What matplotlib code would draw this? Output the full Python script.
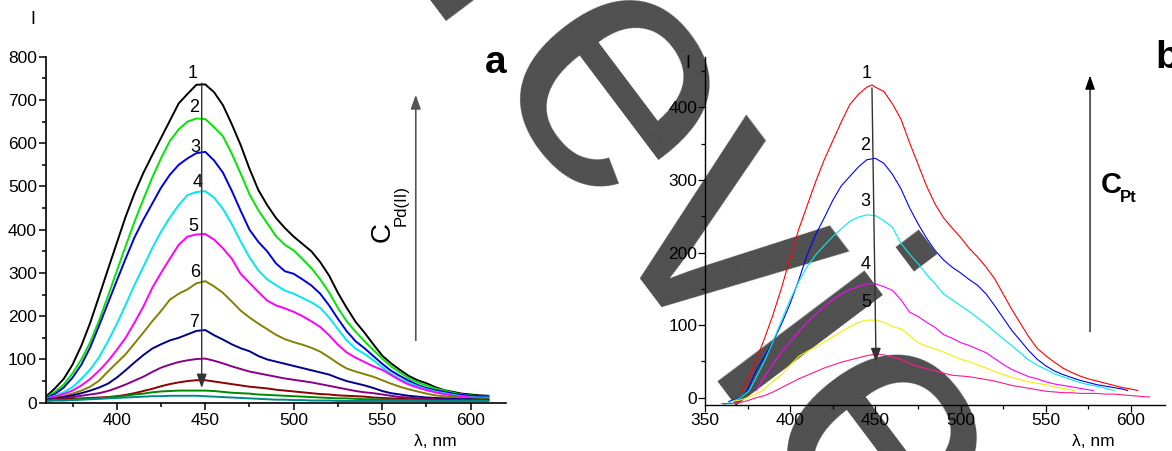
import numpy as np
import matplotlib
matplotlib.use("Agg")
import matplotlib.pyplot as plt
from matplotlib.ticker import MultipleLocator

plt.rcParams["font.family"] = ["Liberation Sans", "DejaVu Sans"]
plt.rcParams["font.size"] = 12.5

W, H = 1172, 451

# ---- panel a: emission spectra vs C_Pd(II) ----
lam_a = list(range(360, 615, 5))
spec_a = {
    "black": [14, 33, 55, 88, 132, 185, 246, 308, 369, 430, 484, 531, 572, 612, 652, 692, 714, 735, 736, 718,
              688, 644, 596, 541, 492, 457, 427, 404, 384, 367, 350, 325, 294, 254, 219, 187, 162, 135, 109, 91,
              76, 62, 52, 45, 36, 29, 25, 21, 19, 17, 16],
    "#00e600": [12, 25, 42, 68, 100, 140, 190, 246, 304, 362, 418, 470, 520, 565, 605, 632, 650, 657, 656, 637,
                616, 576, 530, 482, 445, 415, 385, 365, 352, 332, 311, 285, 255, 219, 188, 164, 142, 122, 102, 84,
                70, 57, 47, 40, 33, 28, 23, 19, 17, 15, 14],
    "#0000e0": [11, 20, 35, 58, 88, 128, 178, 230, 282, 333, 382, 423, 460, 497, 527, 550, 565, 577, 580, 560,
                532, 490, 444, 400, 372, 350, 322, 304, 298, 285, 271, 252, 225, 194, 165, 142, 126, 108, 90, 74,
                62, 51, 41, 34, 29, 25, 21, 18, 16, 15, 14],
    "#00e8f0": [10, 15, 24, 36, 55, 77, 105, 142, 182, 226, 272, 314, 357, 395, 428, 457, 480, 487, 489, 474,
                448, 413, 373, 336, 306, 285, 272, 259, 252, 242, 232, 219, 197, 170, 144, 125, 113, 98, 82, 67,
                55, 46, 38, 31, 26, 22, 18, 15, 13, 12, 12],
    "#ff00ff": [9, 14, 20, 28, 40, 55, 74, 96, 122, 150, 185, 222, 265, 300, 333, 365, 384, 389, 390, 377,
                357, 333, 298, 277, 256, 236, 225, 218, 210, 200, 188, 175, 156, 134, 116, 104, 94, 84, 76, 64,
                52, 42, 35, 29, 24, 20, 16, 14, 12, 11, 10],
    "#858000": [8, 11, 15, 21, 28, 37, 51, 72, 92, 112, 137, 162, 188, 212, 238, 252, 262, 276, 281, 269,
                254, 234, 213, 197, 183, 170, 157, 147, 140, 134, 127, 118, 105, 91, 79, 72, 66, 60, 52, 44,
                37, 31, 26, 21, 17, 15, 13, 11, 10, 9, 9],
    "#000088": [7, 10, 13, 17, 22, 28, 35, 44, 58, 75, 93, 110, 125, 135, 144, 150, 158, 166, 168, 156,
                146, 135, 126, 119, 108, 100, 95, 90, 85, 80, 75, 70, 65, 57, 50, 45, 40, 34, 27, 22,
                19, 16, 14, 12, 11, 10, 9, 8, 8, 7, 7],
    "#880088": [6, 8, 10, 13, 16, 19, 22, 27, 34, 42, 51, 60, 71, 81, 88, 94, 98, 101, 102, 97,
                91, 84, 78, 72, 68, 64, 60, 56, 53, 50, 47, 43, 39, 35, 31, 27, 24, 22, 19, 16,
                13, 12, 10, 9, 8, 7, 7, 6, 6, 6, 6],
    "#8b0000": [6, 7, 8, 9, 10, 11, 12, 13, 15, 18, 22, 27, 32, 38, 43, 47, 50, 52, 52, 49,
                46, 43, 40, 37, 35, 33, 30, 28, 26, 24, 22, 20, 19, 17, 16, 15, 14, 12, 11, 10,
                9, 8, 8, 7, 7, 6, 6, 6, 6, 6, 6],
    "#008800": [5, 6, 6, 7, 8, 9, 10, 12, 14, 16, 19, 21, 24, 26, 27, 28, 28, 28, 28, 27,
                25, 23, 22, 21, 19, 18, 17, 16, 15, 14, 13, 12, 11, 10, 10, 9, 8, 8, 7, 7,
                6, 6, 6, 5, 5, 5, 5, 5, 5, 5, 5],
    "#008888": [4, 5, 5, 6, 7, 8, 9, 10, 11, 12, 13, 14, 15, 15, 16, 16, 16, 16, 15, 14,
                13, 12, 11, 10, 9, 8, 7, 7, 6, 6, 5, 5, 5, 4, 4, 4, 4, 4, 4, 4,
                4, 4, 4, 4, 4, 4, 4, 4, 4, 4, 4],
}
labels_a = ["1", "2", "3", "4", "5", "6", "7"]
label_pos_a = [(443, 762), (444, 682), (444.5, 589), (445.5, 508), (443, 408), (444.2, 300), (443.5, 186)]

# ---- panel b: emission spectra vs C_Pt ----
spec_b = [
    ("#ff0000",
     [372, 375, 380, 385, 390, 395, 400, 405, 410, 415, 420, 425, 430, 435, 440, 445, 448, 450, 455, 460,
      465, 470, 475, 480, 485, 490, 495, 500, 505, 510, 515, 520, 525, 530, 535, 540, 545, 550, 555, 560,
      565, 570, 575, 580, 585, 590, 595, 600, 604],
     [10, 24, 52, 82, 115, 152, 193, 232, 265, 298, 328, 354, 380, 404, 418, 428, 431, 428, 422, 405,
      384, 352, 322, 292, 267, 248, 234, 221, 206, 194, 180, 164, 143, 122, 103, 84, 68, 58, 49, 41,
      35, 30, 26, 23, 20, 17, 14, 12, 10]),
    ("#0000ff",
     [364, 368, 372, 375, 380, 385, 390, 395, 400, 405, 410, 415, 420, 425, 430, 435, 440, 445, 450, 455,
      460, 465, 470, 475, 480, 485, 490, 495, 500, 505, 510, 515, 520, 525, 530, 535, 540, 545, 550, 555,
      560, 565, 570, 575, 580, 585, 590, 595, 598],
     [-5, -2, 1, 11, 37, 57, 78, 102, 130, 162, 197, 225, 248, 272, 292, 305, 318, 328, 330, 323,
      308, 288, 262, 240, 220, 203, 190, 180, 172, 163, 155, 143, 127, 110, 93, 79, 65, 53, 44, 37,
      32, 28, 24, 21, 18, 16, 14, 12, 10]),
    ("#00eeee",
     [360, 364, 368, 371, 376, 380, 385, 390, 395, 400, 405, 410, 415, 420, 425, 430, 435, 440, 445, 450,
      455, 460, 465, 470, 475, 480, 485, 490, 495, 500, 505, 510, 515, 520, 525, 530, 535, 540, 545, 550,
      555, 560, 565, 570, 575, 580, 585, 590],
     [-11, -7, -3, 0, 10, 28, 51, 78, 107, 135, 160, 181, 197, 210, 222, 233, 243, 249, 252, 251,
      244, 235, 213, 198, 185, 170, 157, 143, 135, 127, 119, 110, 101, 91, 81, 72, 62, 52, 45, 39,
      33, 29, 25, 21, 18, 16, 13, 10]),
    ("#ff00ff",
     [380, 385, 390, 395, 400, 405, 410, 415, 420, 425, 430, 435, 440, 445, 450, 455, 460, 465, 470, 475,
      480, 485, 490, 495, 500, 505, 510, 515, 520, 525, 530, 535, 540, 545, 550, 555, 560, 565, 570, 575,
      578],
     [10, 29, 47, 63, 77, 91, 104, 115, 126, 135, 143, 149, 153, 157, 157, 153, 148, 135, 118, 112,
      104, 97, 87, 82, 76, 72, 67, 62, 54, 46, 39, 34, 29, 26, 22, 19, 17, 15, 13, 11,
      10]),
    ("#f5f000",
     [366, 371, 376, 384, 390, 395, 400, 405, 410, 415, 420, 425, 430, 435, 440, 445, 450, 455, 460, 465,
      470, 475, 480, 485, 490, 495, 500, 505, 510, 515, 520, 525, 530, 535, 540, 545, 550, 555, 560, 567],
     [-5, -3, 1, 10, 23, 32, 45, 57, 64, 70, 77, 84, 91, 98, 104, 107, 107, 104, 98, 95,
      86, 76, 71, 67, 63, 58, 53, 50, 45, 41, 36, 32, 28, 25, 22, 20, 18, 15, 13, 10]),
    ("#ff1a8c",
     [360, 365, 370, 375, 380, 385, 390, 395, 400, 405, 410, 415, 420, 425, 430, 435, 440, 445, 450, 455,
      460, 465, 470, 475, 480, 485, 490, 495, 500, 505, 510, 515, 520, 525, 530, 535, 540, 545, 550, 555,
      560, 565, 570, 575, 580, 585, 590, 595, 600, 605, 611],
     [-8, -8, -7, -4, 0, 3, 8, 14, 20, 26, 31, 36, 41, 45, 49, 52, 55, 58, 60, 59,
      56, 53, 47, 43, 40, 37, 34, 31, 30, 29, 27, 25, 23, 20, 17, 15, 13, 11, 9, 8,
      7, 7, 6, 6, 6, 5, 5, 4, 3, 2, 1]),
]
labels_b = ["1", "2", "3", "4", "5"]
label_pos_b = [(444.9, 447), (444.1, 347), (444.1, 271), (444.5, 184), (444.8, 131)]


def fx(px):
    return px / W


def fy(py):
    return 1 - py / H


fig = plt.figure(figsize=(W / 100, H / 100), dpi=100)

# watermark sits behind both panels
fig.text(fx(705), fy(254), "Preview", fontsize=250, color="#4f4f4f", rotation=-53,
         rotation_mode="anchor", ha="center", va="center", zorder=-1)

ax_a = fig.add_axes([fx(46), fy(403.3), fx(506 - 46), (403.3 - 56.7) / H])
ax_b = fig.add_axes([fx(705), fy(405), fx(1165 - 705), (405 - 56.7) / H])

for col, vals in spec_a.items():
    ax_a.plot(lam_a, vals, color=col, lw=1.4)

ax_a.set_xlim(360, 620)
ax_a.set_ylim(-1.4, 800)
ax_a.xaxis.set_major_locator(MultipleLocator(50))
ax_a.xaxis.set_minor_locator(MultipleLocator(25))
ax_a.yaxis.set_major_locator(MultipleLocator(100))
ax_a.yaxis.set_minor_locator(MultipleLocator(50))
ax_a.tick_params(which="major", direction="out", length=5, width=1.1, pad=1.5)
ax_a.tick_params(which="minor", direction="out", length=3, width=1.1)
ax_a.tick_params(axis="x", pad=2)
for s in ["top", "right"]:
    ax_a.spines[s].set_visible(False)
for s in ["left", "bottom"]:
    ax_a.spines[s].set_linewidth(1.2)
ax_a.set_facecolor("none")

for t, (x, y) in zip(labels_a, label_pos_a):
    ax_a.text(x, y, t, fontsize=13, ha="center", va="center")

ax_a.annotate("", xy=(448, 34), xytext=(448, 739),
              arrowprops=dict(arrowstyle="-|>,head_length=0.7,head_width=0.25", color="#333333",
                              lw=1.0, shrinkA=0, shrinkB=0, mutation_scale=12))
ax_a.annotate("", xy=(569, 712), xytext=(569, 144),
              arrowprops=dict(arrowstyle="-|>,head_length=0.7,head_width=0.25", color="#555555",
                              lw=1.2, shrinkA=0, shrinkB=0, mutation_scale=12))

for col, xs, ys in spec_b:
    ax_b.plot(xs, ys, color=col, lw=0.8)

ax_b.set_xlim(350, 620)
ax_b.set_ylim(-10, 470)
ax_b.xaxis.set_major_locator(MultipleLocator(50))
ax_b.xaxis.set_minor_locator(MultipleLocator(25))
ax_b.yaxis.set_major_locator(MultipleLocator(100))
ax_b.yaxis.set_minor_locator(MultipleLocator(50))
ax_b.tick_params(which="major", direction="out", length=5, width=0.9, pad=0.5)
ax_b.tick_params(which="minor", direction="out", length=3, width=0.9)
for s in ["top", "right"]:
    ax_b.spines[s].set_visible(False)
for s in ["left", "bottom"]:
    ax_b.spines[s].set_linewidth(1.0)
ax_b.set_facecolor("none")

for t, (x, y) in zip(labels_b, label_pos_b):
    ax_b.text(x, y, t, fontsize=13, ha="center", va="center")

ax_b.annotate("", xy=(450.4, 49), xytext=(448, 427),
              arrowprops=dict(arrowstyle="-|>,head_length=0.7,head_width=0.25", color="#333333",
                              lw=1.0, shrinkA=0, shrinkB=0, mutation_scale=12))
ax_b.annotate("", xy=(576, 444), xytext=(576, 91),
              arrowprops=dict(arrowstyle="-|>,head_length=0.7,head_width=0.25", color="black",
                              lw=0.9, shrinkA=0, shrinkB=0, mutation_scale=12))

# axis titles and panel letters
fig.text(fx(33), fy(20), "I", fontsize=13, ha="center", va="center")
fig.text(fx(688), fy(63), "I", fontsize=13, ha="center", va="center")
fig.text(fx(435), fy(442), "\u03bb, nm", fontsize=12.5, ha="center", va="center")
fig.text(fx(1093), fy(441), "\u03bb, nm", fontsize=12.5, ha="center", va="center")
fig.text(fx(496), fy(63), "a", fontsize=28, fontweight="bold", ha="center", va="center")
fig.text(fx(1155), fy(58), "b", fontsize=28, fontweight="bold", ha="left", va="center")

fig.text(fx(383), fy(232), "C", fontsize=20, rotation=90, ha="center", va="center")
fig.text(fx(401.5), fy(206), "Pd(II)", fontsize=12, rotation=90, ha="center", va="center")
fig.text(fx(1111), fy(185), "C", fontsize=21, fontweight="bold", ha="center", va="center")
fig.text(fx(1128), fy(198), "Pt", fontsize=12, fontweight="bold", ha="center", va="center")

fig.savefig("out.png", dpi=100)
